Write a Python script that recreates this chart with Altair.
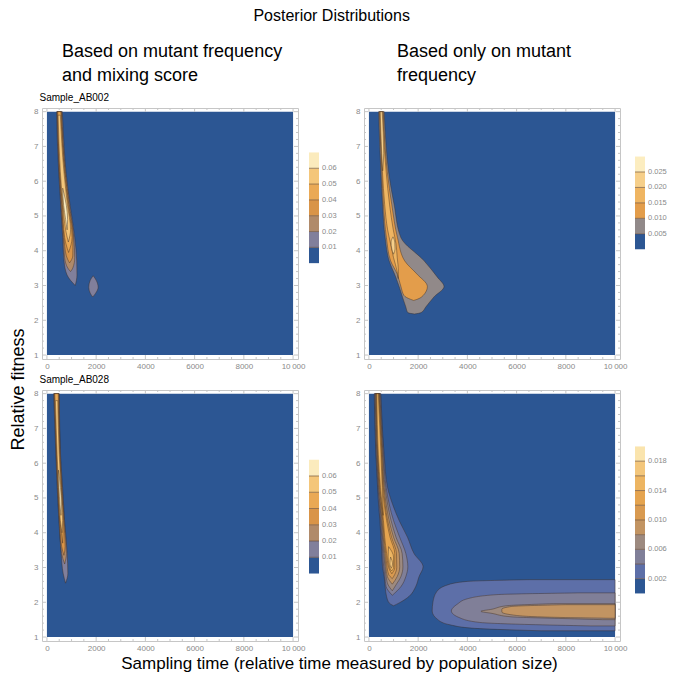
import altair as alt
import pandas as pd

FONT = "Liberation Sans"
BLUE = "#2c5693"
EDGE = "#3a2a1e"
FRAME = "#c6c6c6"
TICK_GRAY = "#8a8a8a"

# ---------------- axes ----------------
X_RANGE = [0, 10000]
Y_RANGE = [1, 8]
X_DOMAIN = [-200, 10200]
Y_DOMAIN = [0.886, 8.105]
X_TICKS = [0, 2000, 4000, 6000, 8000, 10000]
X_MINOR = [500, 1000, 1500, 2500, 3000, 3500, 4500, 5000, 5500, 6500, 7000, 7500, 8500, 9000, 9500]
Y_TICKS = [1, 2, 3, 4, 5, 6, 7, 8]
Y_MINOR = [1.2, 1.4, 1.6, 1.8, 2.2, 2.4, 2.6, 2.8, 3.2, 3.4, 3.6, 3.8, 4.2, 4.4, 4.6, 4.8,
           5.2, 5.4, 5.6, 5.8, 6.2, 6.4, 6.6, 6.8, 7.2, 7.4, 7.6, 7.8]

PW, PH = 256, 251

# ---------------- colour bands ----------------
TL_COLORS = ["#2c5693", "#817f9b", "#b08a6a", "#d99448", "#eaa955", "#f4c67a", "#fbebbd"]
TR_COLORS = ["#2c5693", "#918989", "#e39d4b", "#efb562", "#f6cf8a", "#fcedc0"]
BR_COLORS = ["#2c5693", "#5d6fa8", "#807f98", "#9d8a80", "#c29462", "#d99a50",
             "#e5a44f", "#edb562", "#f3c67b", "#fae4ad"]

TL_CB_EDGES = [0, 0.01, 0.02, 0.03, 0.04, 0.05, 0.06, 0.07]
TL_CB_TICKS = [0.01, 0.02, 0.03, 0.04, 0.05, 0.06]
TL_CB_LABELS = ["0.01", "0.02", "0.03", "0.04", "0.05", "0.06"]
TR_CB_EDGES = [0, 0.005, 0.01, 0.015, 0.02, 0.025, 0.03]
TR_CB_TICKS = [0.005, 0.01, 0.015, 0.02, 0.025]
TR_CB_LABELS = ["0.005", "0.010", "0.015", "0.020", "0.025"]
BR_CB_EDGES = [0, 0.002, 0.004, 0.006, 0.008, 0.010, 0.012, 0.014, 0.016, 0.018, 0.020]
BR_CB_TICKS = [0.002, 0.006, 0.010, 0.014, 0.018]
BR_CB_LABELS = ["0.002", "0.006", "0.010", "0.014", "0.018"]

# ---------------- contour regions: (fitness, time_low, time_high) ----------------
# Sample_AB002, mutant frequency + mixing score
TL_L1_A = [(8.0, 395, 625), (7.0, 430, 700), (6.27, 477, 775), (5.32, 558, 940), (4.38, 640, 1130),
           (3.71, 694, 1210), (3.3, 820, 1220), (3.0, 1150, 1150)]
TL_L1_B = [(3.28, 1880, 1880), (3.15, 1760, 2000), (2.95, 1700, 2080), (2.78, 1760, 1980), (2.67, 1860, 1860)]
TL_L2 = [(8.0, 410, 600), (6.27, 495, 755), (5.32, 575, 915), (4.38, 665, 1090), (3.8, 720, 1130),
         (3.5, 850, 1050), (3.4, 960, 960)]
TL_L3 = [(8.0, 425, 580), (6.27, 510, 735), (5.32, 600, 890), (4.38, 690, 1060), (3.85, 790, 1050), (3.65, 920, 920)]
TL_L4 = [(8.0, 440, 565), (6.27, 525, 715), (5.32, 625, 865), (4.38, 720, 1020), (3.95, 880, 880)]
TL_L5 = [(7.9, 455, 545), (6.27, 545, 690), (5.32, 650, 835), (4.6, 760, 960), (4.25, 870, 870)]
TL_L6 = [(5.8, 640, 640), (5.3, 680, 790), (4.9, 760, 840), (4.6, 820, 820)]

# Sample_AB002, mutant frequency only
TR_L1 = [(8.0, 393, 620), (7.0, 440, 700), (6.27, 486, 797), (5.32, 553, 1025), (4.38, 660, 1296),
         (3.71, 822, 2240), (3.24, 1093, 2780), (2.97, 1227, 3050), (2.67, 1364, 2640),
         (2.38, 1500, 2308), (2.22, 1580, 2120), (2.18, 1850, 1850)]
TR_L2 = [(8.0, 420, 585), (6.27, 520, 745), (5.32, 590, 930), (4.38, 710, 1160), (3.71, 880, 1450),
         (3.33, 1150, 1950), (2.97, 1300, 2375), (2.71, 1430, 2200), (2.6, 1700, 1950), (2.57, 1820, 1820)]
TR_L3 = [(8.0, 445, 560), (6.27, 550, 700), (5.32, 640, 840), (4.6, 760, 990), (4.2, 880, 1100),
         (3.8, 1000, 1150), (3.4, 1150, 1200), (3.2, 1190, 1190)]
TR_L4_A = [(8.0, 460, 540), (6.8, 520, 600), (6.3, 560, 560)]
TR_L4_B = [(4.4, 980, 980), (4.25, 900, 1050), (4.05, 930, 1060), (3.9, 1000, 1000)]

# Sample_AB028, mutant frequency + mixing score
BL_L1 = [(8.0, 270, 500), (6.24, 364, 554), (5.30, 417, 635), (4.35, 486, 717), (3.40, 580, 822),
         (2.83, 660, 850), (2.55, 756, 756)]
BL_L2 = [(8.0, 290, 490), (6.24, 380, 540), (5.30, 432, 617), (4.35, 500, 700), (3.40, 600, 790), (3.1, 720, 720)]
BL_L3 = [(8.0, 305, 475), (6.24, 392, 528), (5.30, 447, 600), (4.35, 515, 685), (3.6, 600, 740), (3.35, 690, 690)]
BL_L4 = [(8.0, 320, 460), (6.24, 402, 515), (5.30, 460, 585), (4.35, 530, 665), (3.7, 640, 640)]
BL_L5 = [(7.8, 345, 440), (6.24, 415, 500), (5.30, 475, 570), (4.35, 545, 640), (4.0, 610, 610)]
BL_L6 = [(5.8, 470, 470), (5.3, 490, 550), (4.8, 530, 590), (4.5, 570, 570)]

# Sample_AB028, mutant frequency only
BR_L1_A = [(8.0, 215, 486), (6.24, 283, 620), (5.30, 352, 757), (4.82, 390, 960), (4.35, 445, 1228),
           (3.87, 486, 1567), (3.40, 526, 1834), (3.02, 553, 2200), (2.74, 620, 2037), (2.45, 660, 1900),
           (2.17, 716, 1632), (1.98, 823, 1228), (1.9, 1000, 1000)]
BR_L1_B = [(2.65, 6500, 10000), (2.6, 4000, 10000), (2.5, 3200, 10000), (2.3, 2750, 10000), (2.0, 2600, 10000),
           (1.75, 2570, 10000), (1.5, 2800, 10000), (1.35, 3300, 10000), (1.25, 4300, 10000), (1.18, 7000, 10000)]
BR_L2_A = [(8.0, 235, 465), (6.24, 300, 595), (5.30, 370, 700), (4.35, 470, 1000), (3.87, 520, 1250),
           (3.40, 560, 1500), (3.02, 600, 1580), (2.74, 650, 1500), (2.45, 700, 1300), (2.2, 950, 950)]
BR_L2_B = [(2.27, 8500, 10000), (2.22, 5200, 10000), (2.1, 4000, 10000), (1.95, 3600, 10000), (1.75, 3350, 10000),
           (1.55, 3700, 10000), (1.42, 4500, 10000), (1.36, 6500, 10000), (1.32, 9000, 10000)]
BR_L3_A = [(8.0, 255, 445), (6.24, 320, 570), (5.30, 390, 660), (4.35, 500, 900), (3.87, 550, 1100),
           (3.40, 600, 1350), (3.02, 650, 1380), (2.74, 700, 1300), (2.5, 780, 1100), (2.33, 950, 950)]
BR_L3_B = [(1.96, 7500, 10000), (1.9, 5600, 10000), (1.8, 5000, 10000), (1.74, 4550, 10000), (1.68, 5000, 10000),
           (1.58, 5800, 10000), (1.53, 8000, 10000), (1.5, 9500, 10000)]
BR_L4_A = [(8.0, 275, 425), (6.24, 340, 550), (5.30, 410, 620), (4.35, 530, 820), (3.87, 580, 1000),
           (3.40, 640, 1230), (3.02, 690, 1250), (2.74, 750, 1150), (2.52, 950, 950)]
BR_L4_B = [(1.93, 8000, 10000), (1.88, 5800, 10000), (1.8, 5400, 10000), (1.72, 5400, 10000), (1.62, 6000, 10000),
           (1.56, 8000, 10000), (1.54, 9800, 10000)]
BR_L5 = [(8.0, 290, 410), (6.24, 355, 530), (5.30, 430, 590), (4.35, 560, 760), (3.87, 610, 920),
         (3.40, 680, 1120), (3.0, 740, 1130), (2.8, 800, 1050), (2.68, 950, 950)]
BR_L6 = [(8.0, 305, 395), (6.24, 370, 510), (5.30, 450, 560), (4.35, 590, 720), (3.87, 640, 860),
         (3.40, 720, 1050), (3.0, 800, 1050), (2.82, 930, 930)]
BR_L7_A = [(8.0, 320, 380), (6.24, 385, 490), (5.30, 470, 540), (4.5, 580, 580)]
BR_L7_B = [(3.6, 800, 800), (3.3, 780, 1000), (3.0, 840, 1000), (2.9, 920, 920)]
BR_L8 = [(3.3, 880, 880), (3.1, 850, 960), (2.98, 910, 910)]

TL_LEVELS = {1: [TL_L1_A, TL_L1_B], 2: [TL_L2], 3: [TL_L3], 4: [TL_L4], 5: [TL_L5], 6: [TL_L6]}
TR_LEVELS = {1: [TR_L1], 2: [TR_L2], 3: [TR_L3], 4: [TR_L4_A, TR_L4_B]}
BL_LEVELS = {1: [BL_L1], 2: [BL_L2], 3: [BL_L3], 4: [BL_L4], 5: [BL_L5], 6: [BL_L6]}
BR_LEVELS = {1: [BR_L1_A, BR_L1_B], 2: [BR_L2_A, BR_L2_B], 3: [BR_L3_A, BR_L3_B], 4: [BR_L4_A, BR_L4_B],
             5: [BR_L5], 6: [BR_L6], 7: [BR_L7_A, BR_L7_B], 8: [BR_L8]}


def level_df(blobs, lev):
    rows = []
    for b, pts in enumerate(blobs):
        for (y, lo, hi) in pts:
            rows.append({"blob": f"{lev}-{b}", "y": y, "xlo": lo, "xhi": hi})
    return pd.DataFrame(rows)


def panel(levels, colors, title=None, top_title=None, x_title=None, y_title=None):
    xs = alt.Scale(domain=X_DOMAIN, nice=False, zero=False)
    ys = alt.Scale(domain=Y_DOMAIN, nice=False, zero=False)
    bg_df = pd.DataFrame({"x0": [X_RANGE[0]], "x1": [X_RANGE[1]], "y0": [Y_RANGE[0]], "y1": [Y_RANGE[1]]})

    xkw = dict(values=X_TICKS, format="d", orient="bottom",
               labelExpr="datum.value >= 10000 ? '10\u2009000' : datum.label",
               tickSize=0, domain=False, grid=False, labelColor=TICK_GRAY, labelFontSize=8,
               labelPadding=3, labelFlush=False, title=None)
    if x_title:
        xkw.update(title=x_title, titleFontSize=17, titleFontWeight="normal", titleColor="black",
                   titleX=297, titleY=27, titleAlign="center", titleBaseline="alphabetic")
    ykw = dict(values=Y_TICKS, orient="left", tickSize=0, domain=False, grid=False, labelColor=TICK_GRAY,
               labelFontSize=8, labelPadding=4, labelFlush=False, title=None)
    if y_title:
        ykw.update(title=y_title, titleFontSize=18, titleFontWeight="normal", titleColor="black",
                   titleAngle=270, titleX=-19, titleY=281, titleAlign="center", titleBaseline="alphabetic")

    layers = [alt.Chart(bg_df).mark_rect(fill=BLUE).encode(
        x=alt.X("x0:Q", scale=xs, axis=alt.Axis(**xkw)), x2="x1:Q",
        y=alt.Y("y0:Q", scale=ys, axis=alt.Axis(**ykw)), y2="y1:Q")]

    for lev in sorted(levels):
        d = level_df(levels[lev], lev)
        layers.append(alt.Chart(d).mark_area(
            orient="horizontal", interpolate="monotone", fill=colors[lev],
            stroke=EDGE, strokeWidth=0.7, strokeOpacity=0.6).encode(
            x=alt.X("xlo:Q", scale=xs, axis=None), x2="xhi:Q",
            y=alt.Y("y:Q", scale=ys, axis=None), detail="blob:N"))

    for vals, ln in ((X_TICKS, 4), (X_MINOR, 2)):
        base = alt.Chart(pd.DataFrame({"v": vals})).mark_rule(color=FRAME, strokeWidth=1)
        xe = alt.X("v:Q", scale=xs, axis=None)
        layers.append(base.encode(x=xe, y=alt.value(PH), y2=alt.value(PH - ln)))
        layers.append(base.encode(x=xe, y=alt.value(0), y2=alt.value(ln)))
    for vals, ln in ((Y_TICKS, 4), (Y_MINOR, 2)):
        base = alt.Chart(pd.DataFrame({"v": vals})).mark_rule(color=FRAME, strokeWidth=1)
        ye = alt.Y("v:Q", scale=ys, axis=None)
        layers.append(base.encode(y=ye, x=alt.value(0), x2=alt.value(ln)))
        layers.append(base.encode(y=ye, x=alt.value(PW), x2=alt.value(PW - ln)))

    if top_title:
        layers.append(alt.Chart(bg_df).mark_rect(opacity=0).encode(
            x=alt.X("x0:Q", scale=xs, axis=alt.Axis(
                orient="top", labels=False, ticks=False, domain=False, grid=False,
                title=top_title, titleFontSize=10, titleFontWeight="normal", titleColor="black",
                titleX=-3, titleY=-8, titleAlign="left", titleBaseline="alphabetic")),
            x2="x1:Q",
            y=alt.Y("y0:Q", scale=ys, axis=None), y2="y1:Q"))

    ch = alt.layer(*layers).resolve_axis(x="independent", y="independent").properties(
        width=PW, height=PH, view=alt.ViewBackground(stroke=FRAME, strokeWidth=1))
    if title is not None:
        ch = ch.properties(title=title)
    return ch


def colorbar(edges, colors, ticks, labels, y_domain, x_domain, width):
    xs = alt.Scale(domain=x_domain, nice=False, zero=False)
    ys = alt.Scale(domain=y_domain, nice=False, zero=False)
    bands = pd.DataFrame({"lo": edges[:-1], "hi": edges[1:], "c": colors, "x0": 0, "x1": 1})
    rect = alt.Chart(bands).mark_rect().encode(
        x=alt.X("x0:Q", scale=xs, axis=None), x2="x1:Q",
        y=alt.Y("lo:Q", scale=ys, axis=None), y2="hi:Q",
        fill=alt.Fill("c:N", scale=None))
    rules = alt.Chart(pd.DataFrame({"e": edges[1:-1], "x0": 0, "x1": 1})).mark_rule(
        color="#6a4c34", strokeWidth=0.8, opacity=0.8).encode(
        x=alt.X("x0:Q", scale=xs, axis=None), x2="x1:Q", y=alt.Y("e:Q", scale=ys, axis=None))
    text = alt.Chart(pd.DataFrame({"v": ticks, "t": labels, "x": 1})).mark_text(
        align="left", baseline="middle", dx=3, fontSize=7.5, color=TICK_GRAY).encode(
        x=alt.X("x:Q", scale=xs, axis=None), y=alt.Y("v:Q", scale=ys, axis=None), text="t:N")
    return alt.layer(rect, rules, text).properties(
        width=width, height=PH, view=alt.ViewBackground(stroke=None))


def head(lines, dx, offset, size=18):
    return alt.TitleParams(text=lines, anchor="start", frame="group", dx=dx, offset=offset,
                           fontSize=size, fontWeight="normal", color="black", font=FONT, lineHeight=24)


tl = panel(TL_LEVELS, TL_COLORS, title=head(["Based on mutant frequency", "and mixing score"], 20, 7),
           top_title="Sample_AB002", y_title="Relative fitness")
tr = panel(TR_LEVELS, TR_COLORS, title=head(["Based only on mutant", "frequency"], 33, 23))
bl = panel(BL_LEVELS, TL_COLORS, top_title="Sample_AB028",
           x_title="Sampling time (relative time measured by population size)")
br = panel(BR_LEVELS, BR_COLORS)

tl_cb = colorbar(TL_CB_EDGES, TL_COLORS, TL_CB_TICKS, TL_CB_LABELS, [-0.0606, 0.0981], [-0.6, 5.0], 56)
tr_cb = colorbar(TR_CB_EDGES, TR_COLORS, TR_CB_TICKS, TR_CB_LABELS, [-0.0355, 0.0457], [-1, 1], 20)
bl_cb = colorbar(TL_CB_EDGES, TL_COLORS, TL_CB_TICKS, TL_CB_LABELS, [-0.0415, 0.1129], [-0.6, 5.0], 56)
br_cb = colorbar(BR_CB_EDGES, BR_COLORS, BR_CB_TICKS, BR_CB_LABELS, [-0.00647, 0.02768], [-1, 1], 20)

chart = alt.concat(tl, tl_cb, tr, tr_cb, bl, bl_cb, br, br_cb, columns=4).properties(
    spacing={"row": 31, "column": 5}, bounds="flush", align="each", padding=0,
    title=alt.TitleParams("Posterior Distributions", anchor="middle", fontSize=16, fontWeight="normal",
                          color="black", font=FONT, offset=18, dx=-6),
).configure(font=FONT).configure_view(stroke=None)

chart.save("out.html", embed_options={"renderer": "svg", "actions": False})
